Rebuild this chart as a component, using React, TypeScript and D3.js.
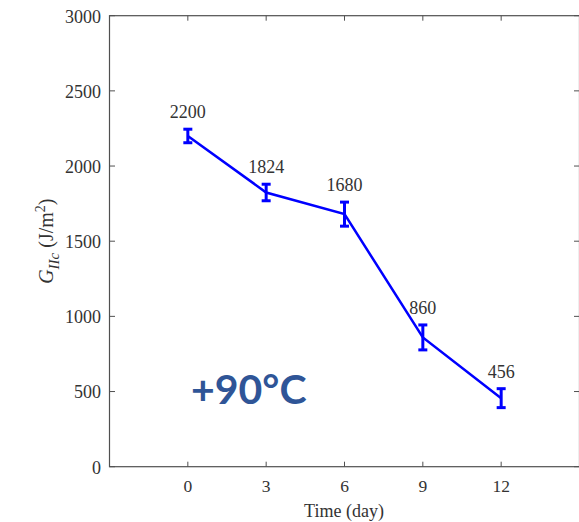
import React from "react";
import * as d3 from "d3";

const days = [0, 3, 6, 9, 12];
const giic = [2200, 1824, 1680, 860, 456];
const errs = [45, 55, 80, 83, 63];
const pointLabels = ["2200", "1824", "1680", "860", "456"];
const xTicks = [0, 3, 6, 9, 12];
const yTicks = [0, 500, 1000, 1500, 2000, 2500, 3000];

const W = 579;
const H = 522;
const left = 109.5;
const right = 579.5;
const top = 15.7;
const bottom = 466.7;

const serif = "'Liberation Serif', 'Times New Roman', serif";

export default function App() {
  const x = d3.scaleLinear().domain([-3, 15]).range([left, right]);
  const y = d3.scaleLinear().domain([0, 3000]).range([bottom, top]);

  const line = d3
    .line<number>()
    .x((_, i) => x(days[i]))
    .y((d) => y(d));

  const axisColor = "#505050";
  const textColor = "#333";
  const blue = "#0000ff";

  return (
    <svg
      width={W}
      height={H}
      style={{ position: "absolute", left: 0, top: 0, background: "#fff" }}
    >
      {/* frame */}
      <rect
        x={left}
        y={top}
        width={right - left}
        height={bottom - top}
        fill="none"
        stroke={axisColor}
        strokeWidth={1.2}
      />
      {/* x ticks */}
      {xTicks.map((t) => (
        <g key={"x" + t}>
          <line x1={x(t)} x2={x(t)} y1={bottom} y2={bottom - 5} stroke={axisColor} />
          <line x1={x(t)} x2={x(t)} y1={top} y2={top + 5} stroke={axisColor} />
          <text
            x={x(t)}
            y={491.5}
            textAnchor="middle"
            fontFamily={serif}
            fontSize={17.5}
            fill={textColor}
          >
            {t}
          </text>
        </g>
      ))}
      {/* y ticks */}
      {yTicks.map((t) => (
        <g key={"y" + t}>
          <line x1={left} x2={left + 5.5} y1={y(t)} y2={y(t)} stroke={axisColor} />
          <line x1={right} x2={right - 5.5} y1={y(t)} y2={y(t)} stroke={axisColor} />
          <text
            x={101}
            y={y(t)}
            dy="0.38em"
            textAnchor="end"
            fontFamily={serif}
            fontSize={18}
            fill={textColor}
          >
            {t}
          </text>
        </g>
      ))}
      {/* axis titles */}
      <text
        x={344}
        y={516.5}
        textAnchor="middle"
        fontFamily={serif}
        fontSize={18}
        fill={textColor}
      >
        Time (day)
      </text>
      <text
        transform={`translate(53,${(top + bottom) / 2}) rotate(-90)`}
        textAnchor="middle"
        fontFamily={serif}
        fontSize={20}
        fill={textColor}
      >
        <tspan fontStyle="italic">G</tspan>
        <tspan fontStyle="italic" fontSize={15} dy={6}>
          IIc
        </tspan>
        <tspan dy={-6}> (J/m</tspan>
        <tspan fontSize={14} dy={-8}>
          2
        </tspan>
        <tspan dy={8}>)</tspan>
      </text>
      {/* data line */}
      <path d={line(giic) || ""} fill="none" stroke={blue} strokeWidth={2.5} />
      {/* error bars */}
      {giic.map((v, i) => {
        const cx = x(days[i]);
        const y1 = y(v + errs[i]);
        const y2 = y(v - errs[i]);
        return (
          <g key={"e" + i} stroke={blue} strokeWidth={3}>
            <line x1={cx} x2={cx} y1={y1} y2={y2} />
            <line x1={cx - 4.5} x2={cx + 4.5} y1={y1} y2={y1} />
            <line x1={cx - 4.5} x2={cx + 4.5} y1={y2} y2={y2} />
          </g>
        );
      })}
      {/* value labels */}
      {giic.map((v, i) => (
        <text
          key={"l" + i}
          x={x(days[i])}
          y={y(v + errs[i]) - 11}
          textAnchor="middle"
          fontFamily={serif}
          fontSize={18}
          fill={textColor}
        >
          {pointLabels[i]}
        </text>
      ))}
      <text
        x={191}
        y={404}
        fontFamily="Lato, 'Open Sans', sans-serif"
        fontWeight="bold"
        fontSize={41}
        fill="#2f5597"
      >
        +90°C
      </text>
    </svg>
  );
}
